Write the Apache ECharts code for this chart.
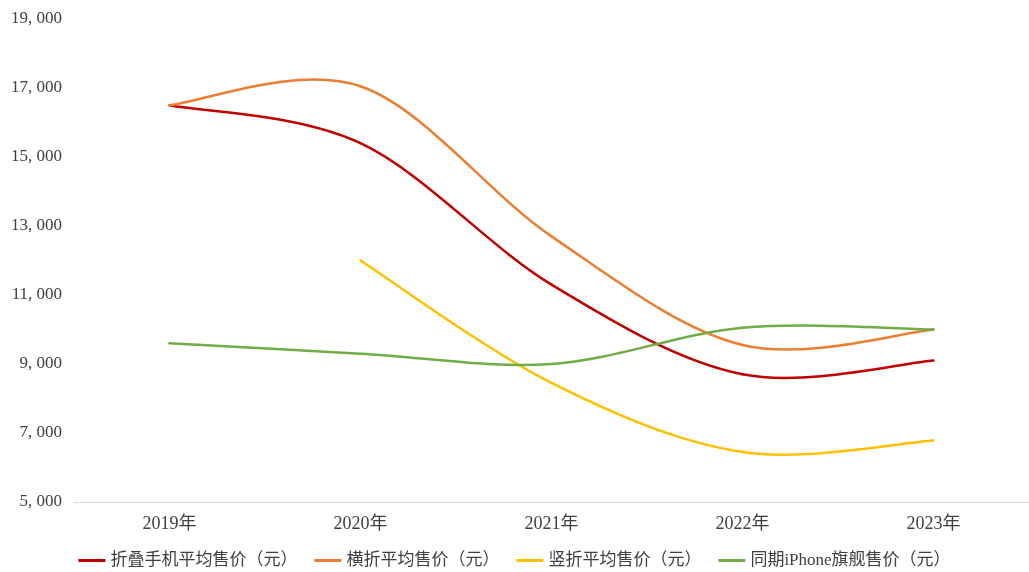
<!DOCTYPE html>
<html>
<head>
<meta charset="utf-8">
<script src="https://cdn.jsdelivr.net/npm/echarts@6/dist/echarts.min.js"></script>
<style>
  html, body { margin: 0; padding: 0; background: #fff; }
  #chart { width: 1029px; height: 572px; }
</style>
</head>
<body>
<div id="chart"></div>
<script>
// 折叠屏手机与同期 iPhone 旗舰售价对比（元）
const years = ['2019年', '2020年', '2021年', '2022年', '2023年'];
const foldAvg = [16500, 15400, 11300, 8700, 9100];
const horizontalFold = [16500, 17050, 12700, 9550, 10000];
const verticalFold = [null, 12000, 8450, 6450, 6780];
const iphoneFlagship = [9600, 9300, 9000, 10050, 10000];
const yTicks = { min: 5000, max: 19000, interval: 2000 };

const seriesNames = ['折叠手机平均售价（元）', '横折平均售价（元）', '竖折平均售价（元）', '同期iPhone旗舰售价（元）'];
const seriesColors = ['#C00000', '#ED7D31', '#FFC000', '#70AD47'];
const seriesData = [foldAvg, horizontalFold, verticalFold, iphoneFlagship];

const textFont = '"Liberation Serif", "Noto Sans CJK SC", serif';

// Each item draws the curve segment from point i to point i+1 as a
// Catmull-Rom style cubic Bezier, using neighbouring points for tangents.
function makeRenderItem(values, color) {
  return function (params, api) {
    const i = api.value(0);
    const v1 = values[i], v2 = values[i + 1];
    if (v1 == null || v2 == null) return null;
    const pt = k => api.coord([k, values[k]]);
    const p1 = pt(i), p2 = pt(i + 1);
    const p0 = (i - 1 >= 0 && values[i - 1] != null) ? pt(i - 1) : p1;
    const p3 = (i + 2 < values.length && values[i + 2] != null) ? pt(i + 2) : p2;
    const t = 1 / 6;
    return {
      type: 'bezierCurve',
      shape: {
        x1: p1[0], y1: p1[1],
        x2: p2[0], y2: p2[1],
        cpx1: p1[0] + (p2[0] - p0[0]) * t, cpy1: p1[1] + (p2[1] - p0[1]) * t,
        cpx2: p2[0] - (p3[0] - p1[0]) * t, cpy2: p2[1] - (p3[1] - p1[1]) * t
      },
      style: { stroke: color, lineWidth: 2.5, fill: null, lineCap: 'round' }
    };
  };
}

const chart = echarts.init(document.getElementById('chart'), null, { renderer: 'canvas' });

chart.setOption({
  animation: false,
  backgroundColor: '#ffffff',
  grid: { left: 74, top: 19, width: 960, height: 483, containLabel: false },
  legend: {
    top: 552,
    left: 'center',
    padding: 0,
    icon: 'rect',
    itemWidth: 27,
    itemHeight: 3,
    itemGap: 17,
    textStyle: { fontFamily: textFont, fontSize: 17, color: '#404040' },
    data: seriesNames.map((name, i) => ({ name, itemStyle: { color: seriesColors[i] } }))
  },
  xAxis: {
    type: 'category',
    data: years,
    boundaryGap: true,
    axisLine: { lineStyle: { color: '#D9D9D9', width: 1 } },
    axisTick: { show: false },
    axisLabel: { fontFamily: textFont, fontSize: 18, color: '#404040', margin: 13 }
  },
  yAxis: {
    type: 'value',
    min: yTicks.min,
    max: yTicks.max,
    interval: yTicks.interval,
    axisLine: { show: false },
    axisTick: { show: false },
    splitLine: { show: false },
    axisLabel: {
      fontFamily: textFont,
      fontSize: 17,
      color: '#404040',
      margin: 12,
      formatter: v => {
        const s = String(v);
        return s.slice(0, s.length - 3) + ', ' + s.slice(-3);
      }
    }
  },
  series: seriesNames.map((name, i) => ({
    name,
    type: 'custom',
    coordinateSystem: 'cartesian2d',
    color: seriesColors[i],
    renderItem: makeRenderItem(seriesData[i], seriesColors[i]),
    encode: { x: 0, y: 1 },
    data: seriesData[i].map((v, k) => [k, v])
  }))
});
</script>
</body>
</html>
